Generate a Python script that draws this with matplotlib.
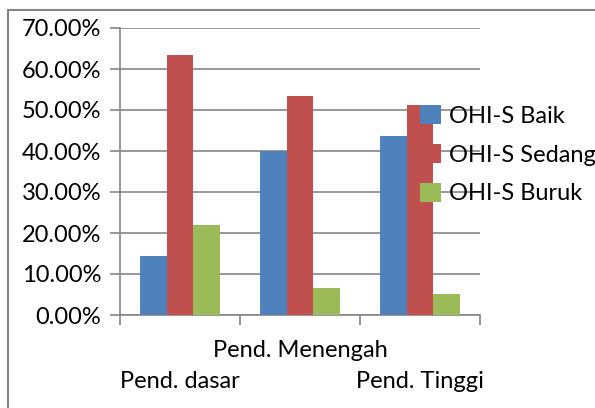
import matplotlib
matplotlib.use("Agg")
import matplotlib.pyplot as plt
from matplotlib.lines import Line2D

categories = ["Pend. dasar", "Pend. Menengah", "Pend. Tinggi"]
series = ["OHI-S Baik", "OHI-S Sedang", "OHI-S Buruk"]
baik = [14.4, 40.0, 43.7]
sedang = [63.4, 53.4, 51.2]
buruk = [22.0, 6.5, 5.1]
colors = ["#4F81BD", "#C0504D", "#9BBB59"]
yticks = [0, 10, 20, 30, 40, 50, 60, 70]

plt.rcParams["font.family"] = ["Lato", "DejaVu Sans"]
grey = "#868686"

W, H = 595, 408
fig = plt.figure(figsize=(W / 100, H / 100), dpi=100)
ax = fig.add_axes([120 / W, (H - 315) / H, 360 / W, 287 / H])

bw = 0.222
for k, vals in enumerate([baik, sedang, buruk]):
    xs = [i + (k - 1) * bw for i in range(len(categories))]
    ax.bar(xs, vals, width=bw, color=colors[k], label=series[k], zorder=3)

ax.set_xlim(-0.5, 2.5)
ax.set_ylim(0, 70)
ax.set_yticks(yticks)
ax.set_yticklabels(["%.2f%%" % v for v in yticks], fontsize=17)
ax.yaxis.grid(True, color=grey, linewidth=1.2, zorder=0)
ax.set_xticks([-0.5, 0.5, 1.5, 2.5])
ax.set_xticklabels([])
ax.tick_params(axis="both", color=grey, width=1.2, length=7.5, direction="out")
ax.tick_params(axis="y", pad=6)
for s in ["top", "right"]:
    ax.spines[s].set_visible(False)
for s in ["left", "bottom"]:
    ax.spines[s].set_color(grey)
    ax.spines[s].set_linewidth(1.2)

label_y = [-0.230, -0.122, -0.230]
for i, name in enumerate(categories):
    ax.text(i, label_y[i], name, transform=ax.get_xaxis_transform(),
            ha="center", va="center", fontsize=17)

leg = ax.legend(loc="upper left", bbox_to_anchor=(420 / W, 1 - 105 / H),
                bbox_transform=fig.transFigure, frameon=False, fontsize=17,
                handlelength=0.88, handleheight=0.88, handletextpad=0.35,
                labelspacing=0.72, borderpad=0, borderaxespad=0)
leg.set_zorder(5)

# outer chart frame (left and top edges visible)
fig.add_artist(Line2D([8 / W, 8 / W], [0, 1 - 10 / H], color=grey, linewidth=1.5))
fig.add_artist(Line2D([8 / W, 1], [1 - 10 / H, 1 - 10 / H], color=grey, linewidth=1.5))

fig.savefig("out.png", dpi=100)
